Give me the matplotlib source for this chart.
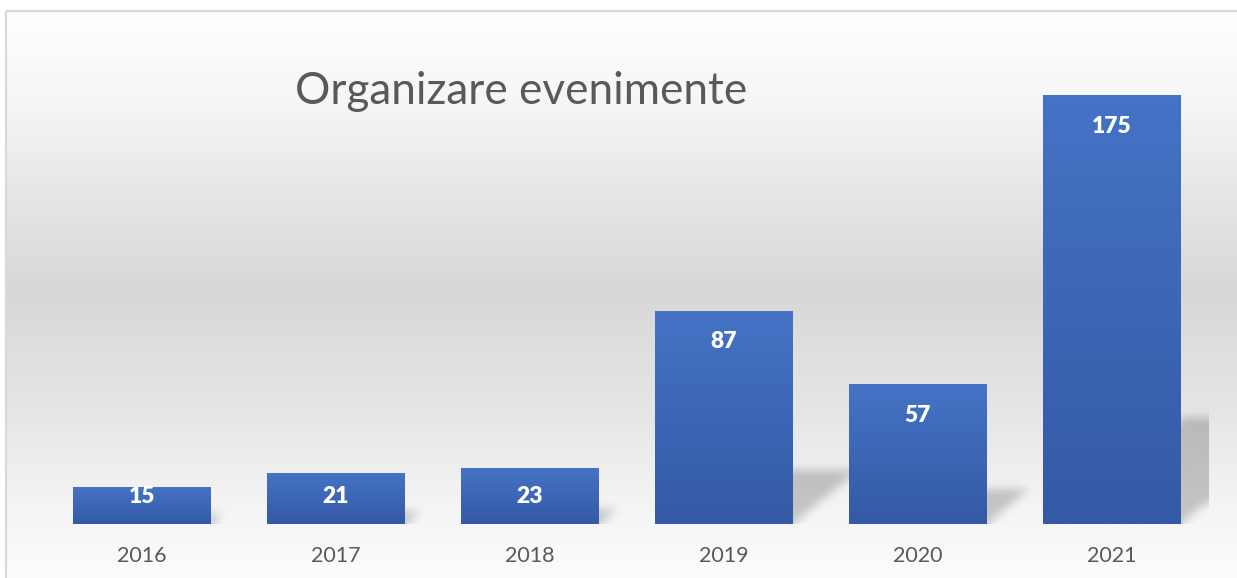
import numpy as np
import matplotlib
matplotlib.use("Agg")
import matplotlib.pyplot as plt
from matplotlib.path import Path
from matplotlib.patches import Rectangle
from matplotlib.colors import to_rgb

# ---- data ----
categories = ["2016", "2017", "2018", "2019", "2020", "2021"]
values = [15, 21, 23, 87, 57, 175]
title = "Organizare evenimente"

plt.rcParams['font.family'] = ['Lato', 'DejaVu Sans']

W, H = 1237, 578
DPI = 100
fig = plt.figure(figsize=(W / DPI, H / DPI), dpi=DPI)

# ---- background gradient (whole figure) ----
bg = fig.add_axes([0, 0, 1, 1], zorder=-10)
bg.set_axis_off()
ys = np.arange(H)
stops_y = [0, 10, 100, 200, 290, 400, 500, 578]
stops_v = [1.0, 1.0, 0.965, 0.9, 0.845, 0.895, 0.955, 0.99]
col = np.interp(ys, stops_y, stops_v)
img = np.repeat(col[:, None], W, axis=1)
img[:10, :] = 1.0
img[:, :5] = 1.0
bg.imshow(np.dstack([img, img, img]), extent=(0, W, H, 0), aspect='auto', interpolation='bilinear')
bg.set_xlim(0, W)
bg.set_ylim(H, 0)
bg.add_patch(Rectangle((5.5, 10.5), W + 10, H, fill=False, edgecolor='#d9d9d9', lw=1.6))

# ---- main axes ----
ax_l, ax_r, ax_b, ax_t = 45, 1209, 524, 34
ax = fig.add_axes([ax_l / W, (H - ax_b) / H, (ax_r - ax_l) / W, (ax_b - ax_t) / H])
ax.patch.set_alpha(0)
x = np.arange(len(categories))
ymax = 200
ax.set_xlim(-0.5, len(categories) - 0.5)
ax.set_ylim(0, ymax)
for s in ax.spines.values():
    s.set_visible(False)
ax.set_yticks([])
ax.set_xticks(x)
ax.set_xticklabels(categories, fontsize=15.5, color='#595959')
ax.tick_params(axis='x', length=0, pad=16)

bw = 0.71
bars = ax.bar(x, values, width=bw, color='#3d68b9', zorder=3)

# ---- blurred perspective shadows ----
nx, ny = ax_r - ax_l, ax_b - ax_t
gx = np.linspace(-0.5, len(categories) - 0.5, nx)
gy = np.linspace(0, ymax, ny)
XX, YY = np.meshgrid(gx, gy)
pts = np.column_stack([XX.ravel(), YY.ravel()])
mask = np.zeros(XX.size)
for xi, v in zip(x, values):
    dx = v * 0.0039
    dy = v * 0.25
    poly = Path([(xi - bw / 2 + 0.05, 0), (xi + bw / 2, 0),
                 (xi + bw / 2 + dx, dy), (xi - bw / 2 + dx + 0.05, dy)])
    mask = np.maximum(mask, poly.contains_points(pts).astype(float))
mask = mask.reshape(ny, nx)

def gauss_mat(n, sigma):
    idx = np.arange(n)
    K = np.exp(-0.5 * ((idx[:, None] - idx[None, :]) / sigma) ** 2)
    return K / K.sum(axis=1, keepdims=True)

blur = gauss_mat(ny, 4.5) @ mask @ gauss_mat(nx, 4.5).T
shadow = np.zeros((ny, nx, 4))
shadow[..., 3] = blur * 0.2
ax.imshow(shadow, extent=(-0.5, len(categories) - 0.5, 0, ymax), origin='lower',
          aspect='auto', zorder=1, interpolation='bilinear')

# ---- bar gradients ----
top_c = np.array(to_rgb('#4573c5'))
bot_c = np.array(to_rgb('#3459a6'))
grad = np.linspace(0, 1, 256)[:, None]
gimg = (bot_c[None, None, :] * (1 - grad[..., None]) + top_c[None, None, :] * grad[..., None])
gimg = np.repeat(gimg, 2, axis=1)
for b in bars:
    x0, w, h = b.get_x(), b.get_width(), b.get_height()
    im = ax.imshow(gimg, extent=(x0, x0 + w, 0, h), origin='lower', aspect='auto',
                   zorder=4, interpolation='bilinear')
    im.set_clip_path(b)

# ---- data labels (inside end, kept inside the plot for short bars) ----
px_per_unit = (ax_b - ax_t) / ymax
for xi, v in zip(x, values):
    ypos = max(v - 31 / px_per_unit, 27.5 / px_per_unit)
    ax.text(xi, ypos, str(v), ha='center', va='center', color='white',
            fontsize=16.5, fontweight='heavy', zorder=6)

ax.set_xlim(-0.5, len(categories) - 0.5)
ax.set_ylim(0, ymax)

# ---- title ----
fig.text(295 / W, (H - 104) / H, title, fontsize=31.7, color='#595959', ha='left', va='baseline')

fig.savefig('out.png', dpi=DPI)
